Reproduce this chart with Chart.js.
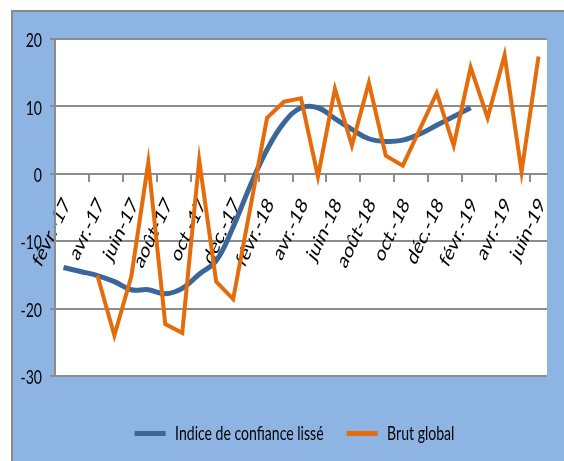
<!DOCTYPE html>
<html><head><meta charset="utf-8">
<script src="https://cdn.jsdelivr.net/npm/chart.js@4.4.1/dist/chart.umd.min.js"></script>
<style>html,body{margin:0;padding:0;background:#fff;}</style>
</head><body>
<canvas id="c" width="564" height="461"></canvas>
<script>
const months = ['févr.-17','mars-17','avr.-17','mai-17','juin-17','juil.-17','août-17','sept.-17','oct.-17','nov.-17','déc.-17','janv.-18',
  'févr.-18','mars-18','avr.-18','mai-18','juin-18','juil.-18','août-18','sept.-18','oct.-18','nov.-18','déc.-18','janv.-19',
  'févr.-19','mars-19','avr.-19','mai-19','juin-19'];
const tickLabels = ['févr.-17','avr.-17','juin-17','août-17','oct.-17','déc.-17','févr.-18','avr.-18','juin-18','août-18',
  'oct.-18','déc.-18','févr.-19','avr.-19','juin-19'];
const indiceLisse = [-13.9,-14.5,-15.1,-16.0,-17.2,-17.2,-17.8,-17.0,-14.9,-12.9,-7.9,-1.8,3.6,7.6,9.8,9.8,8.2,6.6,5.2,4.8,5.0,5.9,7.2,8.5,9.8,
  null,null,null,null];
const brutGlobal = [null,null,-15.1,-24.0,-15.2,1.7,-22.3,-23.6,2.0,-16.0,-18.6,-5.2,8.3,10.7,11.2,-0.4,12.6,4.2,13.5,2.7,1.2,6.6,12.0,4.2,
  15.8,8.3,17.6,0.3,17.4];
const yTicks = [-30,-20,-10,0,10,20];

const FONT = "Lato, 'DejaVu Sans', sans-serif";
const GRID = '#8c8c8c';
const SX = 0.74; // the reference text is horizontally condensed (vertically stretched picture)

const canvas = document.getElementById('c');
const g = canvas.getContext('2d');
const origFill = g.fillText.bind(g);
g.fillText = function (t, x, y, mw) {
  const m = this.getTransform();
  const ax = m.a * x + m.c * y + m.e;
  const ay = m.b * x + m.d * y + m.f;
  const phi = Math.atan2(m.b, m.a);
  const p2 = Math.atan2(SX * Math.sin(phi), Math.cos(phi));
  this.save();
  this.setTransform(SX * Math.cos(p2), Math.sin(p2), -SX * Math.sin(p2), Math.cos(p2), ax, ay);
  if (mw !== undefined) origFill(t, 0, 0, mw / SX); else origFill(t, 0, 0);
  this.restore();
};
const origMeasure = g.measureText.bind(g);
g.measureText = function (t) {
  const m = origMeasure(t);
  return {
    width: m.width * SX,
    actualBoundingBoxAscent: m.actualBoundingBoxAscent,
    actualBoundingBoxDescent: m.actualBoundingBoxDescent,
    actualBoundingBoxLeft: m.actualBoundingBoxLeft * SX,
    actualBoundingBoxRight: m.actualBoundingBoxRight * SX,
    fontBoundingBoxAscent: m.fontBoundingBoxAscent,
    fontBoundingBoxDescent: m.fontBoundingBoxDescent
  };
};

const bgPlugin = {
  id: 'bg',
  afterLayout(chart) {
    if (chart.legend) chart.legend.left += 42;
  },
  beforeDraw(chart) {
    const {ctx, chartArea: a} = chart;
    ctx.save();
    ctx.fillStyle = '#fff';
    ctx.fillRect(0, 0, chart.width, chart.height);
    ctx.fillStyle = '#8EB4E3';
    ctx.fillRect(12, 11, chart.width - 12, chart.height - 11);
    ctx.strokeStyle = '#8a8a8a';
    ctx.lineWidth = 2;
    ctx.beginPath();
    ctx.moveTo(12, chart.height); ctx.lineTo(12, 11); ctx.lineTo(chart.width, 11);
    ctx.stroke();
    ctx.fillStyle = '#fff';
    ctx.fillRect(a.left, a.top, a.right - a.left, a.bottom - a.top);
    ctx.restore();
  }
};

new Chart(canvas, {
  type: 'line',
  data: {
    labels: months,
    datasets: [
      {label: 'Indice de confiance lissé', data: indiceLisse, borderColor: '#3B6699', backgroundColor: '#3B6699',
        borderWidth: 5, tension: 0.4, pointRadius: 0, order: 1, fill: false},
      {label: 'Brut global', data: brutGlobal, borderColor: '#E46C0A', backgroundColor: '#E46C0A',
        borderWidth: 4, tension: 0, pointRadius: 0, order: 0, fill: false}
    ]
  },
  options: {
    responsive: false, animation: false, devicePixelRatio: 1,
    layout: {padding: {left: 0, top: 39, right: 17, bottom: 8}},
    plugins: {
      legend: {
        position: 'bottom',
        labels: {
          boxWidth: 31, boxHeight: 5, padding: 23, color: '#000',
          font: {family: FONT, size: 19},
          sort: (a, b) => a.datasetIndex - b.datasetIndex,
          generateLabels(chart) {
            const items = Chart.defaults.plugins.legend.labels.generateLabels(chart);
            items.forEach(it => { it.lineWidth = 0; it.fillStyle = it.strokeStyle; });
            return items;
          }
        }
      },
      tooltip: {enabled: false}
    },
    scales: {
      x: {
        type: 'category', position: {y: 0}, offset: true,
        afterFit(s) { s.paddingLeft = 0; s.paddingRight = 0; },
        grid: {offset: true, drawOnChartArea: false, drawTicks: true, tickLength: 7, lineWidth: 2,
          color: c => (c.index % 2 === 0) ? GRID : 'rgba(0,0,0,0)'},
        border: {display: true, color: GRID, width: 2},
        ticks: {autoSkip: false, minRotation: 65, maxRotation: 65, padding: 14, labelOffset: 3, color: '#000',
          font: {family: FONT, size: 22},
          callback(v, i) { const l = months[i]; return tickLabels.includes(l) ? l : ''; }}
      },
      x2: {
        type: 'category', position: 'bottom', grid: {display: false}, border: {display: false},
        ticks: {display: false},
        afterFit(s) { s.height = 25; s.paddingLeft = 0; s.paddingRight = 0; }
      },
      y: {
        min: -30, max: 20, position: 'left',
        afterFit(s) { s.width = 55; },
        afterBuildTicks(s) { s.ticks = yTicks.map(v => ({value: v})); },
        grid: {color: GRID, lineWidth: 2, tickLength: 5, drawTicks: true},
        border: {display: true, color: GRID, width: 2},
        ticks: {padding: 8, labelOffset: 2, color: '#000', font: {family: FONT, size: 19}}
      }
    }
  },
  plugins: [bgPlugin]
});
</script>
</body></html>
